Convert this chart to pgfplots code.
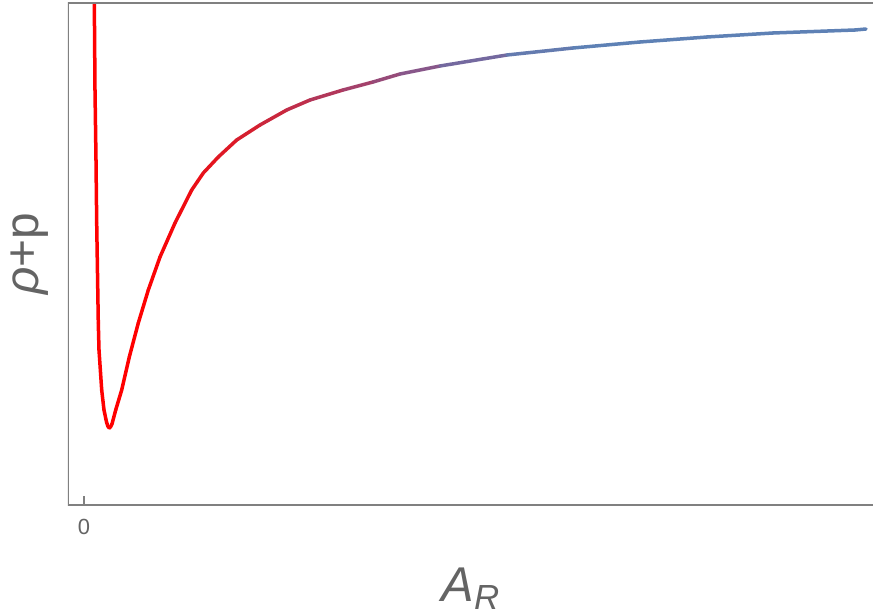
\documentclass[border=0pt]{standalone}
\usepackage{fontspec}
\setmainfont{Liberation Sans}
\usepackage{pgfplots}
\pgfplotsset{compat=1.18}
\definecolor{axgray}{RGB}{128,128,128}
\definecolor{txtgray}{RGB}{100,100,100}
\begin{document}
\begin{tikzpicture}
\begin{axis}[
  scale only axis,
  width=805bp, height=502bp,
  xmin=-0.16, xmax=7.89, ymin=0, ymax=5.02,
  axis line style={draw=none},
  xtick={0}, xticklabels={0}, ytick=\empty,
  xtick pos=bottom, tick align=inside,
  major tick length=9bp,
  tick style={axgray, line width=1.2bp},
  /pgf/number format/assume math mode=true,
  xticklabel style={anchor=base, yshift=-29bp, font=\fontsize{22}{22}\selectfont, text=txtgray},
  xlabel={\textit{A}\raisebox{-8bp}{\fontsize{35}{35}\selectfont\textit{R}}},
  xlabel style={at={(rel axis cs:0.5,0)}, anchor=base, yshift=-96bp, font=\fontsize{49}{49}\selectfont, text=txtgray, inner sep=0pt},
  ylabel={\textit{ρ}+p},
  ylabel style={at={(rel axis cs:0,0.5)}, anchor=center, yshift=38bp, font=\fontsize{48}{48}\selectfont, text=txtgray},
  colormap={rb}{rgb255(0)=(255,0,0) rgb255(1)=(215,30,45) rgb255(2)=(170,60,100) rgb255(3)=(125,95,150) rgb255(4)=(94,129,181)},
  point meta min=0.6, point meta max=4.6,
]
\addplot[mesh, point meta=x, line width=3.5bp, line cap=round, line join=round] coordinates {
(0.098,5.35) (0.103,5.05) (0.11,4.15) (0.12,3.45) (0.127,2.82) (0.143,1.82)
(0.15,1.55) (0.177,1.15) (0.20,0.95) (0.225,0.83) (0.24,0.785) (0.253,0.77)
(0.265,0.78) (0.28,0.81) (0.317,0.95) (0.377,1.15) (0.453,1.48) (0.543,1.82)
(0.643,2.15) (0.76,2.48) (0.91,2.82) (1.077,3.15) (1.193,3.32) (1.343,3.48)
(1.527,3.65) (1.76,3.80) (2.027,3.95) (2.26,4.05) (2.59,4.15) (2.89,4.23)
(3.16,4.31) (3.56,4.39) (4.23,4.50) (4.89,4.57) (5.56,4.63) (6.23,4.68)
(6.89,4.72) (7.71,4.75) (7.82,4.76)
};
\draw[axgray, line width=1.5bp] (rel axis cs:1,1) -- (rel axis cs:0,1) -- (rel axis cs:0,0) -- (rel axis cs:1,0);
\coordinate (O) at (rel axis cs:0,0);
\end{axis}
\path (O) ++(-68bp,-111bp) rectangle ++(873bp,616bp);
\end{tikzpicture}
\end{document}
